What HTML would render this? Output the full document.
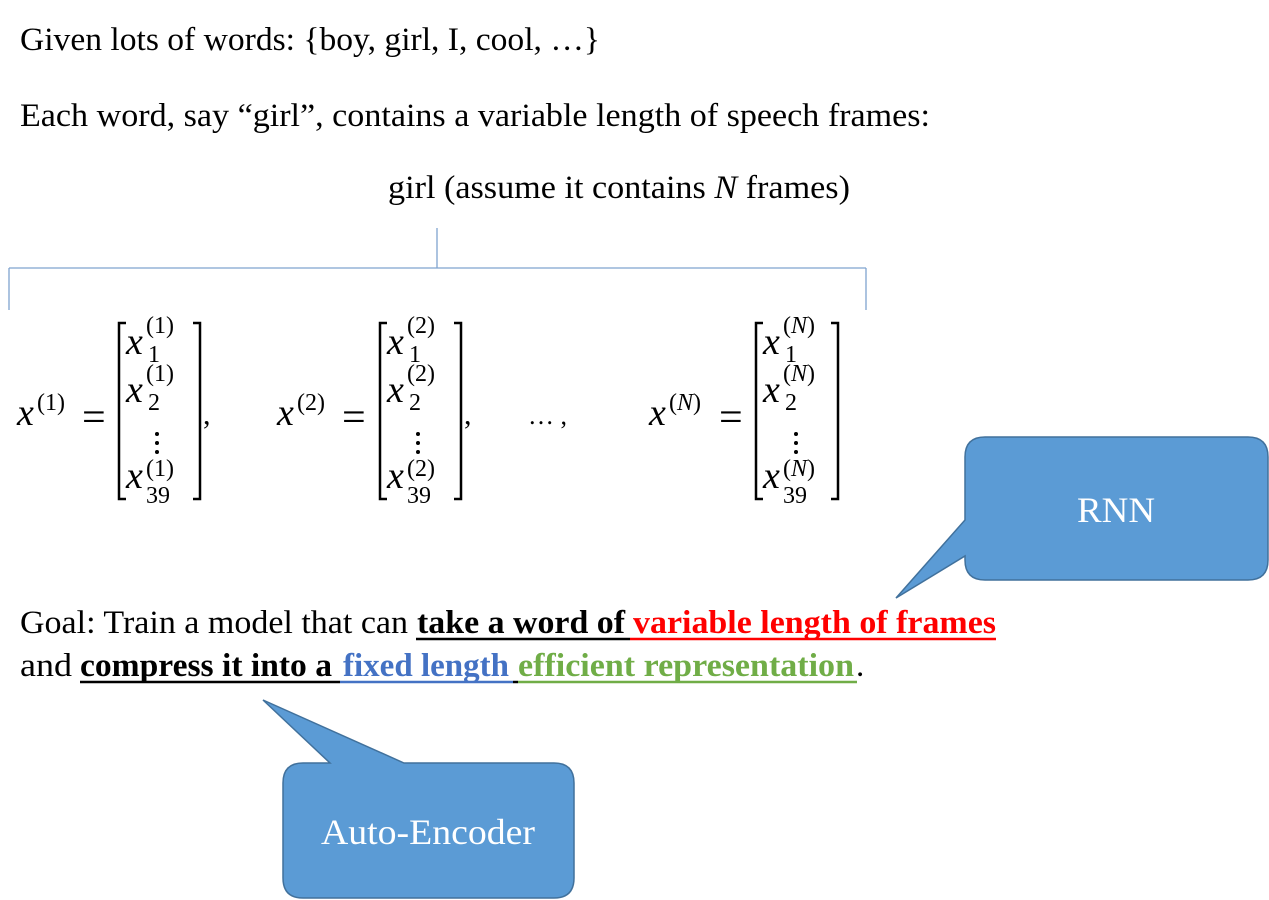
<!DOCTYPE html>
<html><head><meta charset="utf-8"><style>
html,body{margin:0;padding:0;background:#fff;}
svg{display:block;}
text{font-family:"Liberation Serif",serif;}
.m{font-style:italic;font-size:38px;}
.s{font-size:24px;}
</style></head><body>
<svg width="1269" height="900" viewBox="0 0 1269 900" xmlns="http://www.w3.org/2000/svg">
<g font-size="33" fill="#000">
<text x="20" y="50" textLength="580" lengthAdjust="spacingAndGlyphs">Given lots of words: {boy, girl, I, cool, …}</text>
<text x="20" y="126" textLength="910" lengthAdjust="spacingAndGlyphs">Each word, say “girl”, contains a variable length of speech frames:</text>
<text x="388" y="198" textLength="462" lengthAdjust="spacingAndGlyphs">girl (assume it contains <tspan font-style="italic">N</tspan> frames)</text>
</g>
<g stroke="#7fa3cf" stroke-width="1.3" fill="none">
<path d="M437 228V268M9 268H866M9 268V310M866 268V310"/>
</g>
<g id="mats" fill="#000">
<!-- matrix 1 -->
<text class="m" x="17" y="425">x</text><text class="s" x="37" y="410">(1)</text>
<text x="82" y="431" font-size="42">=</text>
<path d="M126 323H119V499H126M193 323H200V499H193" stroke="#000" stroke-width="2.5" fill="none"/>
<text class="m" x="126" y="354">x</text><text class="s" x="146" y="333">(1)</text><text class="s" x="148" y="362">1</text>
<text class="m" x="126" y="402">x</text><text class="s" x="146" y="381">(1)</text><text class="s" x="148" y="410">2</text>
<circle cx="157" cy="434" r="2"/><circle cx="157" cy="443" r="2"/><circle cx="157" cy="452" r="2"/>
<text class="m" x="126" y="488">x</text><text class="s" x="146" y="476">(1)</text><text class="s" x="146" y="503">39</text>
<text x="203" y="424" font-size="30">,</text>
<!-- matrix 2 -->
<text class="m" x="277" y="425">x</text><text class="s" x="297" y="410">(2)</text>
<text x="342" y="431" font-size="42">=</text>
<path d="M387 323H380V499H387M454 323H461V499H454" stroke="#000" stroke-width="2.5" fill="none"/>
<text class="m" x="387" y="354">x</text><text class="s" x="407" y="333">(2)</text><text class="s" x="409" y="362">1</text>
<text class="m" x="387" y="402">x</text><text class="s" x="407" y="381">(2)</text><text class="s" x="409" y="410">2</text>
<circle cx="418" cy="434" r="2"/><circle cx="418" cy="443" r="2"/><circle cx="418" cy="452" r="2"/>
<text class="m" x="387" y="488">x</text><text class="s" x="407" y="476">(2)</text><text class="s" x="407" y="503">39</text>
<text x="464" y="424" font-size="30">,</text>
<text x="528" y="424" font-size="26">… ,</text>
<!-- matrix 3 -->
<text class="m" x="649" y="425">x</text><text class="s" x="669" y="410">(<tspan font-style="italic">N</tspan>)</text>
<text x="719" y="431" font-size="42">=</text>
<path d="M763 323H756V499H763M831 323H838V499H831" stroke="#000" stroke-width="2.5" fill="none"/>
<text class="m" x="763" y="354">x</text><text class="s" x="783" y="333">(<tspan font-style="italic">N</tspan>)</text><text class="s" x="785" y="362">1</text>
<text class="m" x="763" y="402">x</text><text class="s" x="783" y="381">(<tspan font-style="italic">N</tspan>)</text><text class="s" x="785" y="410">2</text>
<circle cx="796" cy="434" r="2"/><circle cx="796" cy="443" r="2"/><circle cx="796" cy="452" r="2"/>
<text class="m" x="763" y="488">x</text><text class="s" x="783" y="476">(<tspan font-style="italic">N</tspan>)</text><text class="s" x="783" y="503">39</text>
</g>
<!-- goal text -->
<g font-size="33">
<text x="20" y="633" textLength="388" lengthAdjust="spacingAndGlyphs">Goal: Train a model that can</text>
<text x="417" y="633" font-weight="bold" textLength="208" lengthAdjust="spacingAndGlyphs">take a word of</text>
<text x="633" y="633" font-weight="bold" fill="#ff0000" textLength="363" lengthAdjust="spacingAndGlyphs">variable length of frames</text>
<text x="20" y="676" textLength="52" lengthAdjust="spacingAndGlyphs">and</text>
<text x="80" y="676" font-weight="bold" textLength="252" lengthAdjust="spacingAndGlyphs">compress it into a</text>
<text x="343" y="676" font-weight="bold" fill="#4472c4" textLength="166" lengthAdjust="spacingAndGlyphs">fixed length</text>
<text x="518" y="676" font-weight="bold" fill="#70ad47" textLength="336" lengthAdjust="spacingAndGlyphs">efficient representation</text>
<text x="856" y="676">.</text>
</g>
<g stroke-width="2.5">
<path d="M416 639H630" stroke="#000"/>
<path d="M630 639H996" stroke="#ff0000"/>
<path d="M80 682H340" stroke="#000"/>
<path d="M340 682H513" stroke="#4472c4"/>
<path d="M513 682H518" stroke="#000"/>
<path d="M518 682H857" stroke="#70ad47"/>
</g>
<!-- callouts -->
<path d="M985 437H1248Q1268 437 1268 457V560Q1268 580 1248 580H985Q965 580 965 560V556L896 598L965 520V457Q965 437 985 437Z" fill="#5b9bd5" stroke="#41719c" stroke-width="1.5"/>
<text x="1116" y="522" font-size="36" fill="#fff" text-anchor="middle" textLength="78" lengthAdjust="spacingAndGlyphs">RNN</text>
<path d="M303 763H330L263 700L404 763H554Q574 763 574 783V878Q574 898 554 898H303Q283 898 283 878V783Q283 763 303 763Z" fill="#5b9bd5" stroke="#41719c" stroke-width="1.5"/>
<text x="428" y="844" font-size="36" fill="#fff" text-anchor="middle" textLength="214" lengthAdjust="spacingAndGlyphs">Auto-Encoder</text>
</svg>
</body></html>
